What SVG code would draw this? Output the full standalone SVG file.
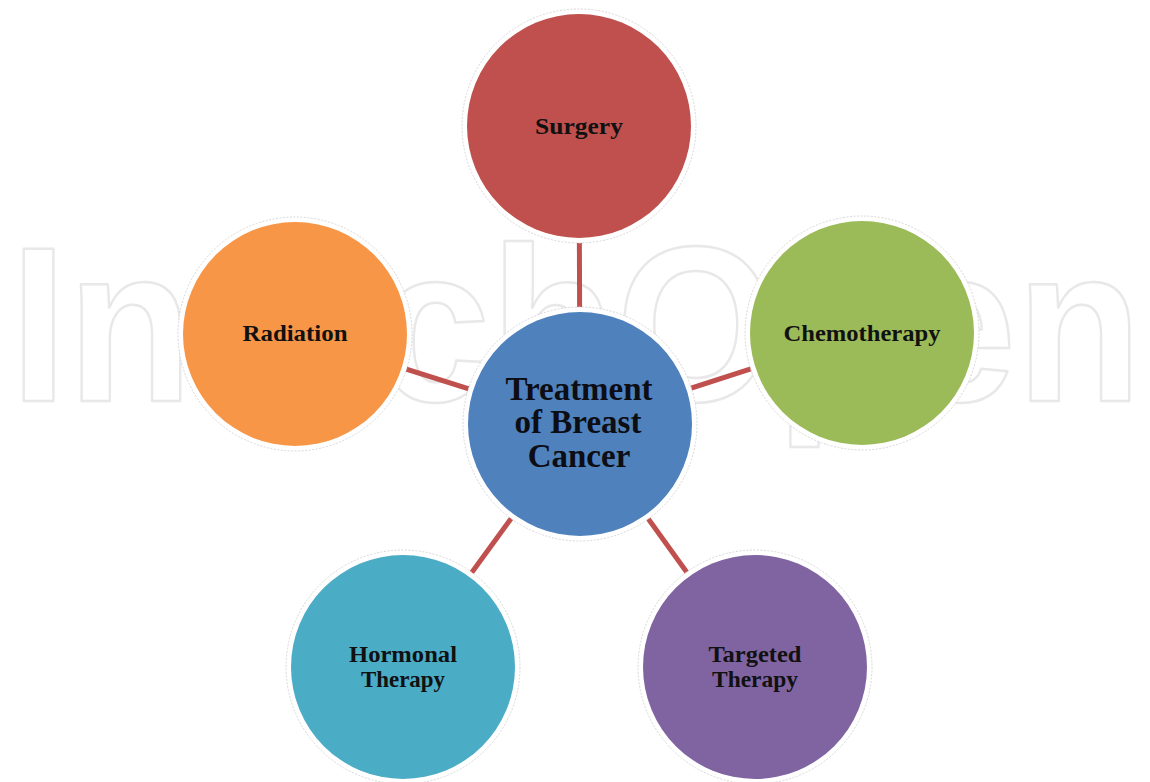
<svg xmlns="http://www.w3.org/2000/svg" width="1150" height="782" viewBox="0 0 1150 782">
  <style>
    .wm { font-family: "Liberation Sans", Arial, sans-serif; font-weight: bold; font-size: 220px; fill: none; stroke: #e8e8e8; stroke-width: 2.5; stroke-linejoin: round; }
    .conn { stroke: #c0504d; stroke-width: 5; stroke-linecap: butt; }
    .ring { fill: #ffffff; stroke: #d8d8d8; stroke-width: 1; stroke-dasharray: 2 1.5; }
    .lbl { font-family: "Liberation Serif", "Times New Roman", serif; font-weight: bold; font-size: 23px; fill: #111111; text-anchor: middle; }
    .big { font-family: "Liberation Serif", "Times New Roman", serif; font-weight: bold; font-size: 33px; fill: #0d0d14; text-anchor: middle; }
  </style>
  <rect width="1150" height="782" fill="#ffffff"/>
  <text class="wm" x="10" y="401" textLength="1132" lengthAdjust="spacingAndGlyphs">IntechOpen</text>

  <g id="connectors">
    <line class="conn" x1="579" y1="126" x2="580" y2="424"/>
    <line class="conn" x1="295" y1="334" x2="580" y2="424"/>
    <line class="conn" x1="862" y1="333" x2="580" y2="424"/>
    <line class="conn" x1="403" y1="667" x2="580" y2="424"/>
    <line class="conn" x1="755" y1="667" x2="580" y2="424"/>
  </g>

  <g id="surgery">
    <circle class="ring" cx="579" cy="126" r="117"/>
    <circle cx="579" cy="126" r="112" fill="#c0504d"/>
    <text class="lbl" x="579" y="134" textLength="88" lengthAdjust="spacingAndGlyphs">Surgery</text>
  </g>

  <g id="radiation">
    <circle class="ring" cx="295" cy="334" r="117"/>
    <circle cx="295" cy="334" r="112" fill="#f79646"/>
    <text class="lbl" x="295" y="341" textLength="105" lengthAdjust="spacingAndGlyphs">Radiation</text>
  </g>

  <g id="chemotherapy">
    <circle class="ring" cx="862" cy="333" r="117"/>
    <circle cx="862" cy="333" r="112" fill="#9bbb59"/>
    <text class="lbl" x="862" y="341" textLength="157" lengthAdjust="spacingAndGlyphs">Chemotherapy</text>
  </g>

  <g id="hormonal">
    <circle class="ring" cx="403" cy="667" r="117"/>
    <circle cx="403" cy="667" r="112" fill="#4bacc6"/>
    <text class="lbl" x="403" y="662" textLength="108" lengthAdjust="spacingAndGlyphs">Hormonal</text>
    <text class="lbl" x="403" y="687" textLength="84" lengthAdjust="spacingAndGlyphs">Therapy</text>
  </g>

  <g id="targeted">
    <circle class="ring" cx="755" cy="667" r="117"/>
    <circle cx="755" cy="667" r="112" fill="#8064a2"/>
    <text class="lbl" x="755" y="662" textLength="93" lengthAdjust="spacingAndGlyphs">Targeted</text>
    <text class="lbl" x="755" y="687" textLength="86" lengthAdjust="spacingAndGlyphs">Therapy</text>
  </g>

  <g id="center">
    <circle class="ring" cx="580" cy="424" r="117"/>
    <circle cx="580" cy="424" r="112" fill="#4f81bd"/>
    <text class="big" x="579" y="400">Treatment</text>
    <text class="big" x="578" y="433">of Breast</text>
    <text class="big" x="579" y="467">Cancer</text>
  </g>
</svg>
